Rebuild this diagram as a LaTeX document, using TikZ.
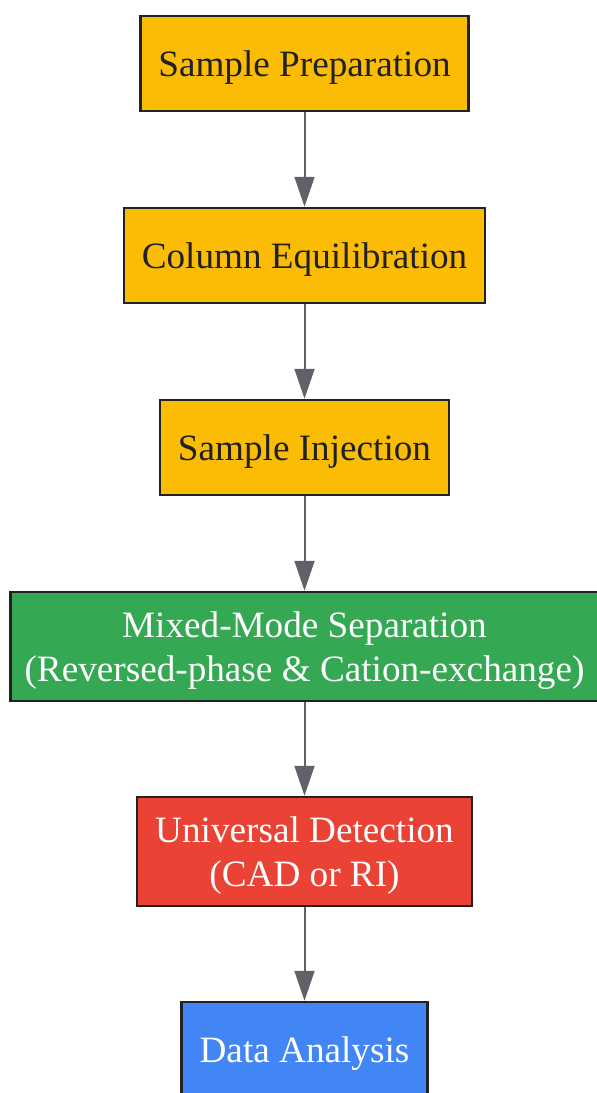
\documentclass[tikz,border=0pt]{standalone}
\usepackage{fontspec}
\setmainfont{Liberation Serif}
\usetikzlibrary{arrows.meta}
\definecolor{gyellow}{HTML}{FBBC05}
\definecolor{ggreen}{HTML}{34A853}
\definecolor{gred}{HTML}{EA4335}
\definecolor{gblue}{HTML}{4285F4}
\definecolor{boxline}{HTML}{222222}
\definecolor{arrowgray}{HTML}{5F6368}
\definecolor{darktext}{HTML}{202124}
\tikzset{
  stepbox/.style={draw=boxline,line width=2.5pt,minimum height=95pt,inner xsep=18pt,text depth=0pt,align=center,font=\fontsize{37.2}{44}\selectfont},
  flow/.style={draw=arrowgray,line width=2pt,-{Triangle[width=20pt,length=30pt]}}
}
\begin{document}
\begin{tikzpicture}[x=1pt,y=1pt]
\useasboundingbox (0,0) rectangle (597,-1093);
\node[stepbox,fill=gyellow,text=darktext] (prep) at (304.5,-63.5) {Sample Preparation};
\node[stepbox,fill=gyellow,text=darktext] (equil) at (304.5,-255.5) {Column Equilibration};
\node[stepbox,fill=gyellow,text=darktext] (inject) at (304.5,-447.5) {Sample Injection};
\node[stepbox,fill=ggreen,text=white,minimum height=109pt,inner xsep=14pt] (sep) at (304.5,-646.5) {Mixed-Mode Separation\\(Reversed-phase \& Cation-exchange)};
\node[stepbox,fill=gred,text=white,minimum height=109pt] (detect) at (304.5,-851.5) {Universal Detection\\(CAD or RI)};
\node[stepbox,fill=gblue,text=white] (data) at (304.5,-1049.5) {Data Analysis};
\draw[flow] (prep) -- (equil);
\draw[flow] (equil) -- (inject);
\draw[flow] (inject) -- (sep);
\draw[flow] (sep) -- (detect);
\draw[flow] (detect) -- (data);
\end{tikzpicture}
\end{document}
